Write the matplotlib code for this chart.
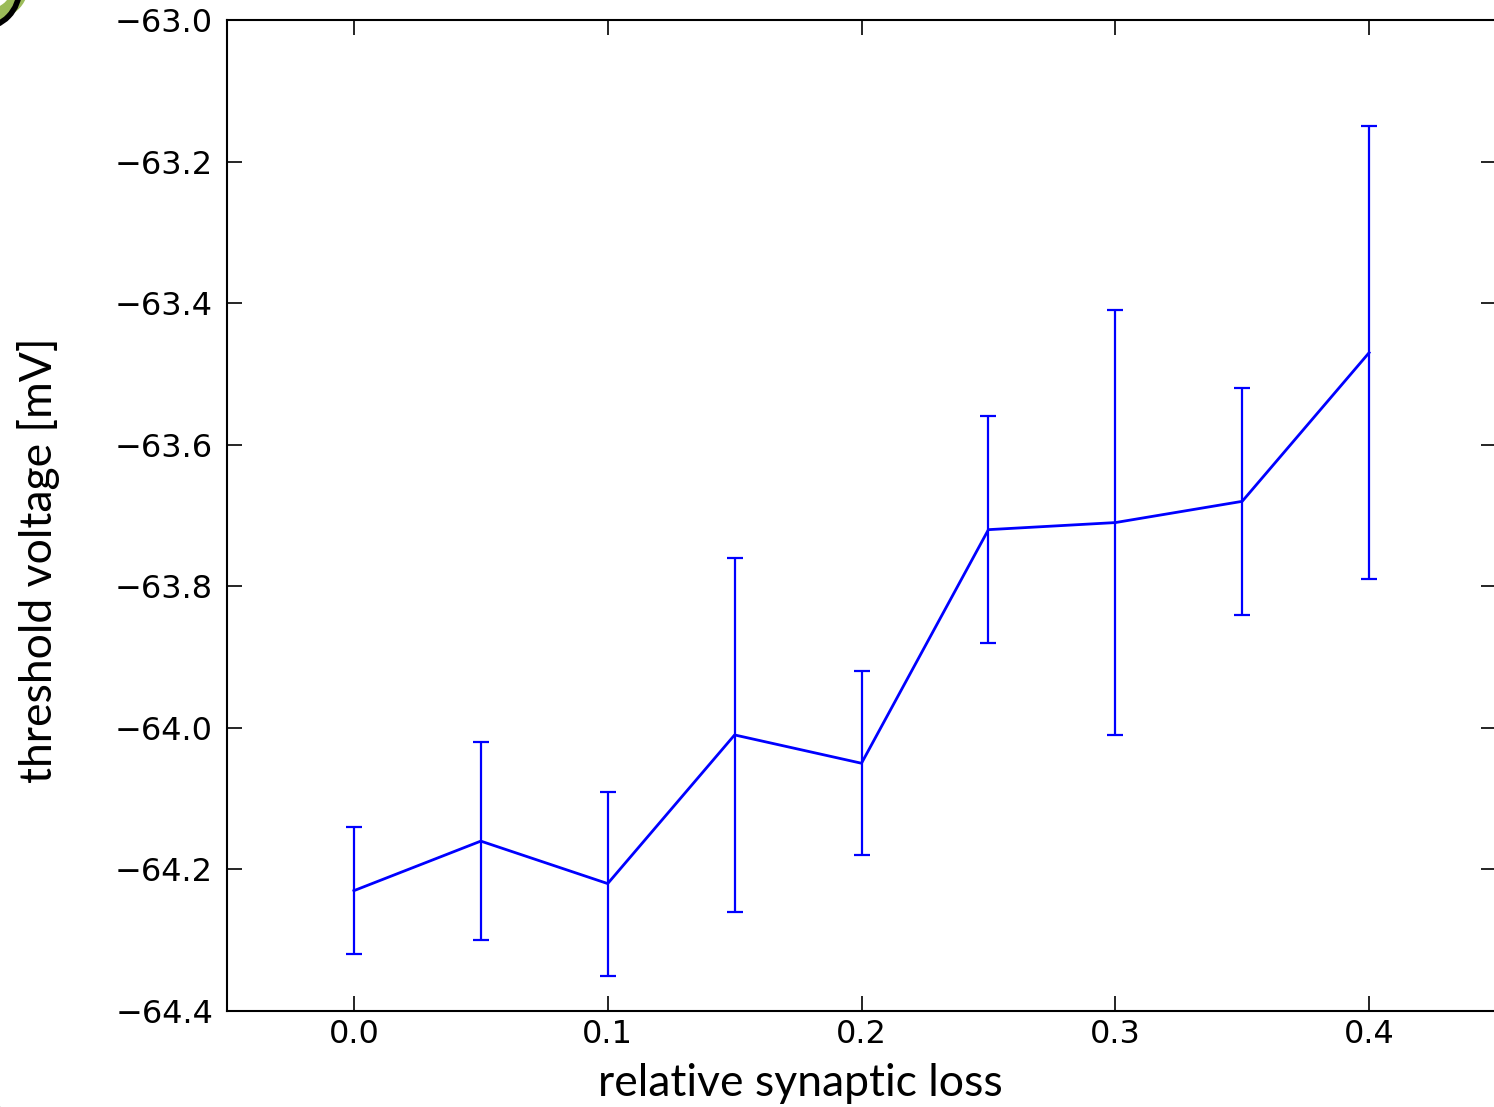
import matplotlib
matplotlib.use('Agg')
import matplotlib.pyplot as plt
from matplotlib.patches import Arc, Wedge

# synaptic loss vs threshold voltage (mean +/- error)
loss = [0.0, 0.05, 0.1, 0.15, 0.2, 0.25, 0.3, 0.35, 0.4]
v_thresh = [-64.23, -64.16, -64.22, -64.01, -64.05, -63.72, -63.71, -63.68, -63.47]
v_err = [0.09, 0.14, 0.13, 0.25, 0.13, 0.16, 0.30, 0.16, 0.32]

x_ticks = [0.0, 0.1, 0.2, 0.3, 0.4]
y_ticks = [-64.4, -64.2, -64.0, -63.8, -63.6, -63.4, -63.2, -63.0]

fig = plt.figure(figsize=(14.94, 11.07), dpi=100, facecolor='white')
ax = fig.add_axes([227/1494., 1 - 1011/1107., (1496 - 227)/1494., (1011 - 20)/1107.])

ax.errorbar(loss, v_thresh, yerr=v_err, color='#0000ff', lw=2.0,
            elinewidth=1.6, capsize=6, capthick=1.6)

ax.set_xlim(-0.05, 0.45)
ax.set_ylim(-64.4, -63.0)
ax.set_xticks(x_ticks)
ax.set_yticks(y_ticks)
ax.set_xticklabels(['{:.1f}'.format(v) for v in x_ticks])
ax.set_yticklabels(['\u2212{:.1f}'.format(abs(v)) for v in y_ticks])

ax.tick_params(direction='in', top=True, right=True, length=11, width=1.2,
               labelsize=23)
ax.tick_params(axis='y', pad=10)
ax.tick_params(axis='x', pad=6)
for sp in ax.spines.values():
    sp.set_linewidth(1.5)

# axis labels sit as slide text, a bit off the axes centre
lab_font = dict(family=['Lato', 'DejaVu Sans'], fontsize=32)
fig.text(800/1494., 1 - 1083/1107., 'relative synaptic loss',
         ha='center', va='center', **lab_font)
fig.text(39/1494., 1 - 560/1107., 'threshold voltage [mV]', rotation=90,
         ha='center', va='center', **lab_font)

# slide decoration in the corners
fig.patches.append(Wedge((-0.012, 1.01), 0.03, 270, 360, width=0.01,
                         transform=fig.transFigure, color='#9bbb59'))
fig.patches.append(Arc((-0.012, 1.01), 0.05, 0.07, theta1=270, theta2=360,
                       transform=fig.transFigure, lw=4, color='black'))
fig.patches.append(Arc((-0.012, -0.012), 0.03, 0.03, theta1=0, theta2=90,
                       transform=fig.transFigure, lw=4, color='black'))

fig.savefig('out.png', dpi=100, facecolor='white')
